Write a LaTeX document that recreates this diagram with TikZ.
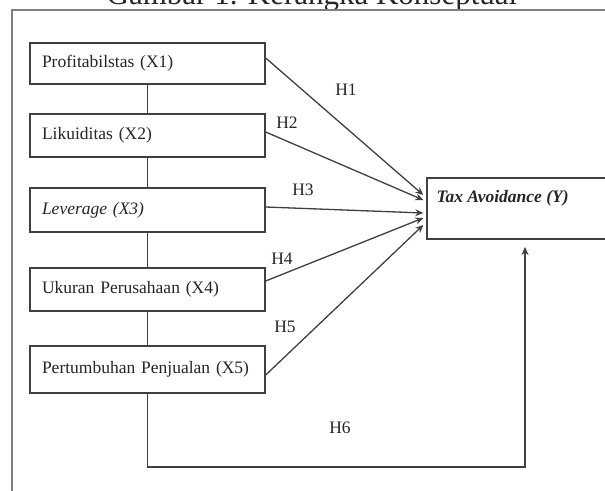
\documentclass[tikz,border=0pt]{standalone}
\usepackage{fontspec}
\setmainfont{Liberation Serif}
\usetikzlibrary{arrows.meta,calc}
\begin{document}
\begin{tikzpicture}[x=1pt,y=-1pt,
  lbox/.style={draw=black!75, line width=1.4pt, rectangle, text width=211pt, inner xsep=12pt, inner ysep=0pt, align=left, font=\fontsize{17.5}{20}\selectfont, text=black!85, anchor=center},
  conn/.style={draw=black!75, line width=1.3pt},
  arr/.style={conn, -{Stealth[length=8pt,width=7pt]}},
  hlab/.style={font=\fontsize{17.5}{20}\selectfont, text=black!85, inner sep=0pt}]
\useasboundingbox (0,0) rectangle (605,490);
\clip (0,0) rectangle (605,490);
\fill[white] (0,0) rectangle (605,490);
% title (cut off at top, as in the reference)
\node[anchor=base, font=\fontsize{31}{34}\selectfont, text=black!85, inner sep=0pt] (title) at (312,4) {Gambar 1. Kerangka Konseptual};
% outer frame
\draw[draw=black!50, line width=2pt] (12,10) rectangle (640,520);
% left boxes
\node[lbox, minimum height=41pt] (X1) at (147.5,63.5) {Profitabilstas (X1)};
\node[lbox, minimum height=43pt] (X2) at (147.5,135.5) {Likuiditas (X2)};
\node[lbox, minimum height=44pt] (X3) at (147.5,210) {\textit{Leverage (X3)}};
\node[lbox, minimum height=43pt] (X4) at (147.5,289.5) {Ukuran Perusahaan (X4)};
\node[lbox, minimum height=47pt] (X5) at (147.5,369.5) {\raisebox{3pt}{Pertumbuhan Penjualan (X5)}};
% dependent box
\node[draw=black!75, line width=1.4pt, rectangle, minimum width=200pt, minimum height=61pt, inner sep=0pt] (Y) at (527,208.5) {};
\node[anchor=base west, font=\fontsize{17.5}{20}\bfseries\itshape\selectfont, text=black!85, inner sep=0pt] (Ylab) at ([xshift=10pt,yshift=-25pt]Y.north west) {Tax Avoidance (Y)};
% vertical links
\draw[conn] (X1.south) -- (X2.north);
\draw[conn] (X2.south) -- (X3.north);
\draw[conn] (X3.south) -- (X4.north);
\draw[conn] (X4.south) -- (X5.north);
% hypotheses arrows
\draw[arr] ([yshift=5.5pt]X1.east) -- ([xshift=-3pt,yshift=13.5pt]Y.west);
\draw[arr] ([yshift=3.5pt]X2.east) -- ([xshift=-3pt,yshift=8.5pt]Y.west);
\draw[arr] ([yshift=3pt]X3.east) -- ([xshift=-3pt,yshift=-4.5pt]Y.west);
\draw[arr] ([yshift=8.5pt]X4.east) -- ([xshift=-3pt,yshift=-9.5pt]Y.west);
\draw[arr] ([yshift=-5.5pt]X5.east) -- ([xshift=-3pt,yshift=-16.5pt]Y.west);
\coordinate (h6end) at (525,247);
\coordinate (h6low) at (0,467);
\draw[arr] (X5.south) -- (X5.south |- h6low) -| (h6end);
% labels
\node[hlab] (H1) at (346,90) {H1};
\node[hlab] (H2) at (287,123) {H2};
\node[hlab] (H3) at (303,190) {H3};
\node[hlab] (H4) at (282,259) {H4};
\node[hlab] (H5) at (285,327) {H5};
\node[hlab] (H6) at (340,428) {H6};
\end{tikzpicture}
\end{document}
